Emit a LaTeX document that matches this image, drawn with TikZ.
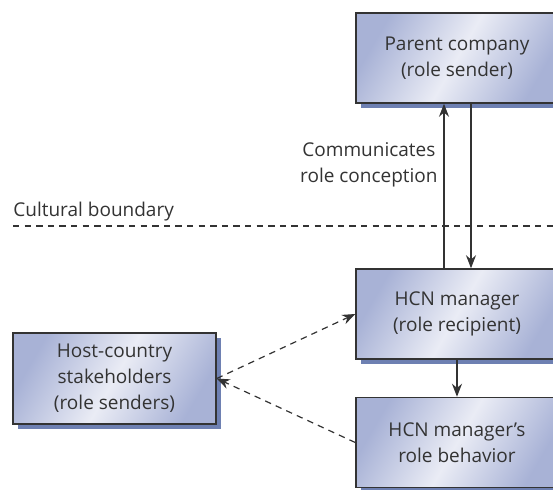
\documentclass[tikz,border=0pt]{standalone}
\usepackage{fontspec}
\setmainfont{Open Sans}
\usetikzlibrary{arrows.meta, positioning, shadows}
\definecolor{rbedge}{HTML}{A8B2D6}
\definecolor{rblight}{HTML}{EAECF5}
\definecolor{rbshadow}{HTML}{6E80B2}
\definecolor{rbline}{HTML}{333333}
\tikzset{
  rolebox/.style={draw=rbline, line width=0.75pt, minimum width=101pt,
                  minimum height=45pt, align=center, inner sep=3pt,
                  left color=rbedge, right color=rbedge, middle color=rblight,
                  shading angle=60,
                  drop shadow={shadow xshift=2.6pt, shadow yshift=-2.6pt,
                               fill=rbshadow, opacity=1}},
  arr/.style={-{Stealth[length=6.5pt, width=5pt]}, line width=0.6pt, rbline},
  darr/.style={arr, dash pattern=on 3.2pt off 2.6pt},
}

\begin{document}
\begin{tikzpicture}[x=0.5pt, y=-0.5pt,
  every node/.style={font=\fontsize{9.5}{13}\selectfont, text=rbline}]
  \useasboundingbox (0,0) rectangle (553,489);
  % boxes
  \node[rolebox] (parent) at (457,58) {Parent company\\(role sender)};
  \node[rolebox] (hcn) at (457,314) {HCN manager\\(role recipient)};
  \node[rolebox] (behav) at (457,442.5) {HCN manager's\\role behavior};
  \node[rolebox, minimum width=101.5pt, minimum height=45.5pt] (host) at (114.5,378.5)
    {Host-country\\stakeholders\\(role senders)};
  % cultural boundary
  \coordinate (bndL) at (13,226);
  \coordinate (bndR) at (553,226);
  \draw[rbline, line width=0.55pt, dash pattern=on 3.2pt off 2.6pt] (bndL) -- (bndR);
  \node[anchor=west, inner sep=0pt] (bnd) at (13,212) {Cultural boundary};
  % parent <-> hcn
  \draw[arr] ([xshift=-6.5pt]hcn.north) -- ([xshift=-6.5pt]parent.south);
  \draw[arr] ([xshift=7pt]parent.south) -- ([xshift=7pt]hcn.north);
  \node[anchor=east, align=center, inner sep=0pt] (comm) at (438,165)
    {Communicates\\role conception};
  % hcn -> behaviour
  \draw[arr] (hcn) -- (behav);
  % host-country links
  \draw[darr] (host.east) -- (hcn.west);
  \draw[darr] (behav.west) -- (host.east);
\end{tikzpicture}
\end{document}
